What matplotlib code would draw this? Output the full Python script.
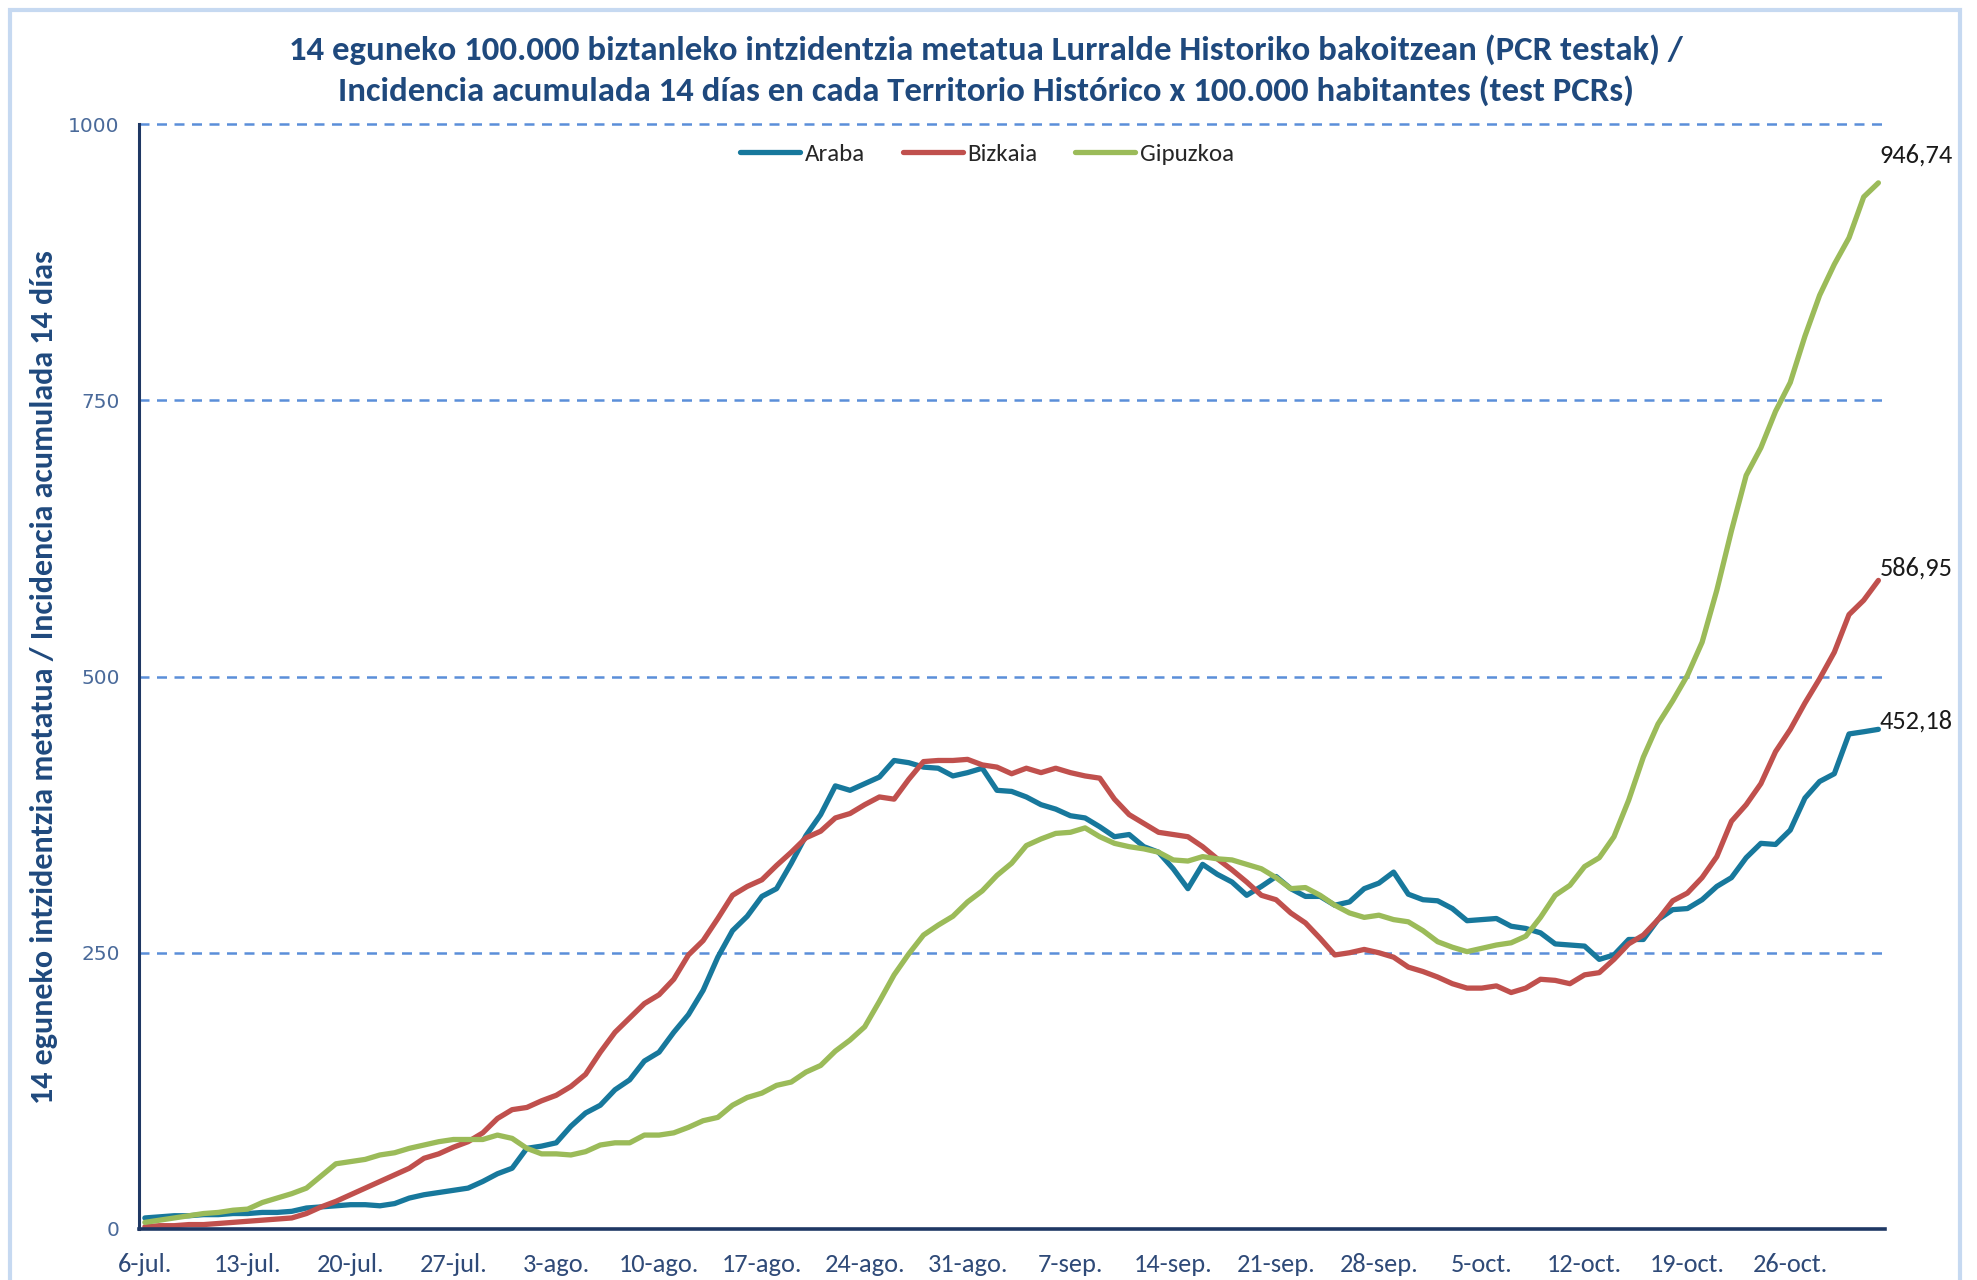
import numpy as np
import matplotlib
matplotlib.use("Agg")
import matplotlib.pyplot as plt
from matplotlib import font_manager as fm
from matplotlib.patches import Rectangle


def pick_font(names):
    # first installed family from the list
    for n in names:
        try:
            fm.findfont(fm.FontProperties(family=n), fallback_to_default=False)
            return n
        except ValueError:
            pass
    return "DejaVu Sans"


main_font = pick_font(["Carlito", "Liberation Sans Narrow", "Lato"])

# 14-day incidence per 100.000, daily from 6-jul to 1-nov
araba = [10, 11, 12, 12, 13, 13, 14, 14, 15, 15,
         16, 19, 20, 21, 22, 22, 21, 23, 28, 31,
         33, 35, 37, 43, 50, 55, 73, 75, 78, 93,
         105, 112, 126, 135, 152, 160, 178, 194, 216, 246,
         270, 283, 301, 308, 331, 356, 375, 401, 397, 403,
         409, 424, 422, 418, 417, 410, 413, 417, 397, 396,
         391, 384, 380, 374, 372, 364, 355, 357, 346, 341,
         326, 308, 330, 321, 314, 302, 310, 319, 308, 301,
         301, 293, 296, 308, 313, 323, 303, 298, 297, 290,
         279, 280, 281, 274, 272, 268, 258, 257, 256, 244,
         248, 262, 262, 280, 289, 290, 298, 310, 318, 336,
         349, 348, 361, 390, 405, 412, 448, 450, 452.18]

bizkaia = [2, 3, 3, 4, 4, 5, 6, 7, 8, 9,
           10, 14, 20, 25, 31, 37, 43, 49, 55, 64,
           68, 74, 79, 87, 100, 108, 110, 116, 121, 129,
           140, 160, 178, 191, 204, 212, 226, 248, 261, 281,
           302, 310, 316, 329, 341, 354, 360, 372, 376, 384,
           391, 389, 407, 423, 424, 424, 425, 420, 418, 412,
           417, 413, 417, 413, 410, 408, 389, 375, 367, 359,
           357, 355, 346, 335, 325, 314, 302, 298, 286, 277,
           263, 248, 250, 253, 250, 246, 237, 233, 228, 222,
           218, 218, 220, 214, 218, 226, 225, 222, 230, 232,
           244, 258, 266, 280, 297, 304, 318, 337, 369, 384,
           403, 432, 452, 476, 498, 522, 556, 569, 586.95]

gipuzkoa = [6, 8, 10, 12, 14, 15, 17, 18, 24, 28,
            32, 37, 48, 59, 61, 63, 67, 69, 73, 76,
            79, 81, 81, 81, 85, 82, 73, 68, 68, 67,
            70, 76, 78, 78, 85, 85, 87, 92, 98, 101,
            112, 119, 123, 130, 133, 142, 148, 161, 171, 183,
            206, 230, 249, 266, 275, 283, 296, 306, 320, 331,
            347, 353, 358, 359, 363, 355, 349, 346, 344, 341,
            334, 333, 337, 335, 334, 330, 326, 318, 308, 309,
            302, 293, 286, 282, 284, 280, 278, 270, 260, 255,
            251, 254, 257, 259, 265, 282, 302, 311, 328, 336,
            355, 388, 427, 457, 478, 501, 531, 578, 632, 682,
            707, 740, 766, 808, 845, 873, 897, 934, 946.74]

tick_labels = ["6-jul.", "13-jul.", "20-jul.", "27-jul.", "3-ago.", "10-ago.",
               "17-ago.", "24-ago.", "31-ago.", "7-sep.", "14-sep.", "21-sep.",
               "28-sep.", "5-oct.", "12-oct.", "19-oct.", "26-oct."]
y_ticks = [0, 250, 500, 750, 1000]

series = [("Araba", araba, "#17789c"),
          ("Bizkaia", bizkaia, "#c0504d"),
          ("Gipuzkoa", gipuzkoa, "#9bbb59")]

navy = "#1f3864"
title_blue = "#1f497d"

fig = plt.figure(figsize=(19.77, 12.8), dpi=100)
ax = fig.add_axes([139 / 1977, 1 - 1229 / 1280, (1885 - 139) / 1977, (1229 - 124) / 1280])

x = np.arange(len(araba))
for name, vals, col in series:
    ax.plot(x, vals, color=col, linewidth=3.8, label=name, solid_capstyle="round")

# value labels at the last point
label_offsets = [(1, 6), (1, 9), (1, 20)]
for (name, vals, col), off in zip(series, label_offsets):
    txt = f"{vals[-1]:.2f}".replace(".", ",")
    ax.annotate(txt, (x[-1], vals[-1]), xytext=off, textcoords="offset points",
                ha="left", va="center", fontsize=19, color="#1a1a1a",
                family=main_font, annotation_clip=False)

ax.set_xlim(-0.4, 118.45)
ax.set_ylim(0, 1000)
ax.set_yticks(y_ticks)
ax.set_yticklabels([str(v) for v in y_ticks], fontsize=14.5, color="#4a6a9a",
                   family="DejaVu Sans")
ax.set_xticks(np.arange(0, len(tick_labels) * 7, 7))
ax.set_xticklabels(tick_labels, fontsize=19, color="#2f4a78", family=main_font)
ax.tick_params(axis="x", length=0, pad=17)
ax.tick_params(axis="y", length=0, pad=14)

for v in y_ticks[1:]:
    ax.axhline(v, color="#5b8fd9", linewidth=1.8, linestyle=(0, (4, 3)), zorder=0,
               clip_on=False)

for s in ["top", "right"]:
    ax.spines[s].set_visible(False)
ax.spines["left"].set_color(navy)
ax.spines["left"].set_linewidth(2.2)
ax.spines["bottom"].set_color(navy)
ax.spines["bottom"].set_linewidth(2.6)

fig.text(44 / 1977, 1 - 677 / 1280,
         "14 eguneko intzidentzia metatua / Incidencia acumulada 14 días",
         rotation=90, ha="center", va="center", fontsize=23, fontweight="bold",
         color=title_blue, family=main_font)

fig.text(986 / 1977, 1 - 70 / 1280,
         "14 eguneko 100.000 biztanleko intzidentzia metatua Lurralde Historiko bakoitzean (PCR testak) /\n"
         "Incidencia acumulada 14 días en cada Territorio Histórico x 100.000 habitantes (test PCRs)",
         ha="center", va="center", fontsize=25, fontweight="bold", color=title_blue,
         family=main_font, linespacing=1.38)

leg = ax.legend(loc="center", bbox_to_anchor=(987 / 1977, 1 - 154 / 1280),
                bbox_transform=fig.transFigure, ncol=3, frameon=False,
                handlelength=2.4, columnspacing=1.5, handletextpad=0.2,
                prop={"family": main_font, "size": 18})
for t in leg.get_texts():
    t.set_color("#262626")

# light blue chart frame
fig.patches.append(Rectangle((10 / 1977, -0.1), (1960 - 10) / 1977, 1.1 - 10 / 1280,
                             transform=fig.transFigure, fill=False,
                             edgecolor="#c6d9f1", linewidth=3))

fig.savefig("out.png", dpi=100)
